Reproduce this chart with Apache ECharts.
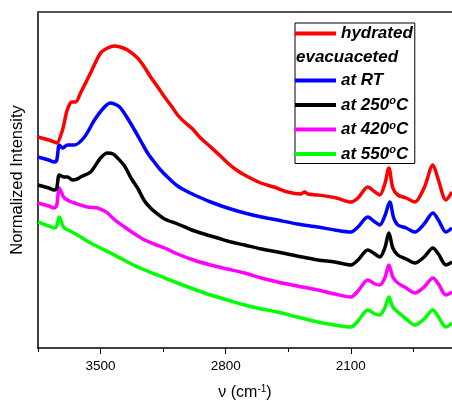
<!DOCTYPE html>
<html>
<head>
<meta charset="utf-8">
<script src="https://cdn.jsdelivr.net/npm/echarts@6/dist/echarts.min.js"></script>
<style>
  html, body { margin: 0; padding: 0; background: #fff; }
  #chart { width: 452px; height: 405px; }
</style>
</head>
<body>
<div id="chart"></div>
<script>
// wavenumber (cm-1), normalized intensity (arb. units, offset per spectrum)
const hydrated = [
  [3850, 211], [3790, 208], [3759, 206], [3745, 205], [3713, 218], [3690, 236], [3675, 243],
  [3662, 246], [3640, 246], [3612, 255], [3556, 275], [3500, 295], [3460, 300], [3423, 302],
  [3390, 301], [3349, 298], [3293, 290], [3255, 281], [3220, 271], [3180, 261], [3142, 251],
  [3100, 241], [3069, 233], [3030, 226], [2985, 219], [2940, 210], [2884, 201], [2835, 193],
  [2789, 185], [2740, 178], [2694, 173], [2604, 165], [2530, 161], [2453, 156], [2380, 154],
  [2358, 156], [2340, 154], [2285, 153], [2180, 150], [2100, 146], [2060, 150], [2005, 161],
  [1965, 156], [1938, 153], [1910, 164], [1887, 180], [1865, 160], [1837, 153], [1790, 150],
  [1742, 146], [1690, 160], [1641, 183], [1610, 168], [1568, 148], [1534, 156]
];
const evacRT = [
  [3850, 191], [3790, 188], [3759, 186], [3745, 188], [3731, 203], [3713, 200], [3685, 203],
  [3646, 203], [3590, 211], [3534, 228], [3478, 241], [3444, 245], [3410, 243], [3388, 240],
  [3350, 230], [3310, 218], [3272, 206], [3237, 195], [3200, 186], [3164, 178], [3120, 170],
  [3069, 162], [3010, 156], [2950, 151], [2884, 146], [2790, 140], [2694, 135], [2600, 131],
  [2509, 128], [2400, 124], [2285, 121], [2190, 118], [2100, 116], [2060, 121], [2005, 131],
  [1965, 126], [1938, 123], [1910, 132], [1882, 146], [1860, 130], [1837, 123], [1790, 120],
  [1742, 116], [1690, 124], [1641, 135], [1610, 128], [1568, 116], [1534, 120]
];
const evac250 = [
  [3850, 163], [3790, 160], [3759, 158], [3745, 160], [3731, 173], [3703, 171], [3685, 171],
  [3657, 168], [3630, 169], [3612, 171], [3556, 176], [3500, 190], [3461, 195], [3430, 194],
  [3405, 190], [3366, 182], [3330, 170], [3293, 160], [3254, 147], [3215, 139], [3181, 134],
  [3142, 129], [3069, 124], [2990, 118], [2940, 115], [2845, 110], [2770, 106], [2694, 103],
  [2600, 99], [2509, 96], [2400, 92], [2285, 88], [2190, 86], [2100, 83], [2060, 88],
  [2005, 98], [1965, 94], [1938, 91], [1910, 100], [1887, 115], [1865, 100], [1837, 93],
  [1790, 89], [1742, 85], [1690, 91], [1641, 100], [1610, 94], [1568, 83], [1534, 86]
];
const evac420 = [
  [3850, 145], [3790, 142], [3759, 140], [3745, 143], [3731, 160], [3715, 154], [3703, 150],
  [3675, 147], [3646, 145], [3573, 141], [3517, 140], [3490, 138], [3461, 135], [3420, 128],
  [3366, 121], [3300, 113], [3254, 108], [3200, 104], [3142, 100], [3069, 94], [2980, 88],
  [2884, 83], [2790, 79], [2694, 75], [2600, 70], [2509, 66], [2400, 62], [2285, 58],
  [2190, 54], [2100, 51], [2060, 57], [2005, 68], [1965, 64], [1938, 63], [1910, 70],
  [1887, 83], [1865, 71], [1837, 65], [1790, 60], [1742, 55], [1690, 61], [1641, 70],
  [1610, 64], [1568, 53], [1534, 56]
];
const evac550 = [
  [3850, 126], [3790, 122], [3759, 120], [3745, 122], [3731, 131], [3715, 124], [3703, 120],
  [3670, 117], [3629, 113], [3556, 105], [3500, 100], [3444, 95], [3370, 88], [3293, 81],
  [3181, 73], [3069, 65], [2980, 59], [2884, 53], [2790, 48], [2694, 43], [2600, 39],
  [2509, 36], [2400, 31], [2285, 26], [2190, 23], [2100, 21], [2060, 27], [2005, 38],
  [1965, 34], [1938, 33], [1910, 40], [1887, 51], [1865, 41], [1837, 36], [1790, 29],
  [1742, 23], [1690, 29], [1641, 38], [1610, 31], [1568, 21], [1534, 25]
];

const seriesNames = ['hydrated', 'at RT', 'at 250°C', 'at 420°C', 'at 550°C'];
const seriesColors = ['#ff0000', '#0000ff', '#000000', '#ff00ff', '#00ff00'];
const seriesData = [hydrated, evacRT, evac250, evac420, evac550];
const majorTicks = [3500, 2800, 2100];
const minorTicks = [3850, 3150, 2450, 1750];
const xMin = 1534, xMax = 3850;

const chart = echarts.init(document.getElementById('chart'));
const font = 'Arial, "Liberation Sans", sans-serif';

const series = seriesData.map((d, i) => ({
  name: seriesNames[i],
  type: 'line',
  data: d,
  xAxisIndex: 0,
  symbol: 'none',
  smooth: 0.3,
  color: seriesColors[i],
  lineStyle: { width: 3.5, color: seriesColors[i] },
  z: 10 - i
}));
// label-only row in the legend
series.splice(1, 0, { name: 'evacuaceted', type: 'line', data: [], symbol: 'none' });

const legendData = ['hydrated', 'evacuaceted', 'at RT', 'at 250°C', 'at 420°C', 'at 550°C'].map((n, i) => {
  if (n === 'evacuaceted') {
    return { name: n, icon: 'none', textStyle: { padding: [0, 0, 0, -45] } };
  }
  return { name: n, icon: 'rect', itemStyle: { color: seriesColors[i === 0 ? 0 : i - 1] } };
});

const option = {
  animation: false,
  backgroundColor: '#fff',
  grid: { left: 38, right: 0, top: 12, bottom: 57, outerBoundsMode: 'none' },
  legend: {
    orient: 'vertical',
    left: 295,
    top: 23,
    data: legendData,
    itemWidth: 41,
    itemHeight: 4,
    itemGap: 6.5,
    padding: [2, 2, 1, 0],
    borderColor: '#000',
    borderWidth: 1,
    selectedMode: false,
    formatter: name => name.replace('°', '{sup|o}'),
    textStyle: {
      fontFamily: font,
      fontSize: 17,
      fontWeight: 'bold',
      fontStyle: 'italic',
      color: '#000',
      lineHeight: 17,
      rich: {
        sup: { fontSize: 11, fontWeight: 'bold', fontStyle: 'italic', fontFamily: font, color: '#000', padding: [0, 0, 8, 0] }
      }
    }
  },
  xAxis: [
    {
      type: 'value',
      inverse: true,
      min: xMin,
      max: xMax,
      position: 'bottom',
      name: 'ν (cm{sup|-1})',
      nameLocation: 'middle',
      nameGap: 36,
      nameTextStyle: {
        fontFamily: font,
        fontSize: 16,
        color: '#000',
        rich: { sup: { fontSize: 10, fontFamily: font, color: '#000', padding: [0, 0, 8, 0] } }
      },
      axisLine: { show: true, lineStyle: { color: '#000', width: 1.5 } },
      axisTick: { show: true, customValues: majorTicks, length: 6, lineStyle: { color: '#000', width: 1 } },
      axisLabel: {
        customValues: majorTicks,
        formatter: v => String(v),
        margin: 11,
        fontFamily: font,
        fontSize: 13.5,
        color: '#000'
      },
      splitLine: { show: false }
    },
    {
      type: 'value',
      inverse: true,
      min: xMin,
      max: xMax,
      position: 'bottom',
      axisLine: { show: false },
      axisTick: { show: true, customValues: minorTicks, length: 4, lineStyle: { color: '#000', width: 1 } },
      axisLabel: { show: false },
      splitLine: { show: false }
    },
    {
      type: 'value',
      inverse: true,
      min: xMin,
      max: xMax,
      position: 'top',
      axisLine: { show: true, lineStyle: { color: '#555', width: 2 } },
      axisTick: { show: false },
      axisLabel: { show: false },
      splitLine: { show: false }
    }
  ],
  yAxis: {
    type: 'value',
    min: 0,
    max: 336,
    name: 'Normalized Intensity',
    nameLocation: 'middle',
    nameGap: 12,
    nameTextStyle: { fontFamily: font, fontSize: 16.5, color: '#000' },
    axisLine: { show: true, lineStyle: { color: '#000', width: 1.5 } },
    axisTick: { show: false },
    axisLabel: { show: false },
    splitLine: { show: false }
  },
  series: series
};

chart.setOption(option);
</script>
</body>
</html>
